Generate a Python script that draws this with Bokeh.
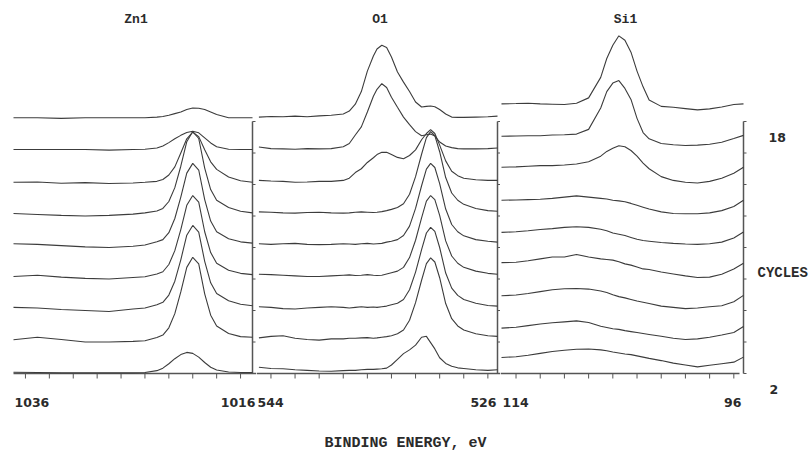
from bokeh.plotting import figure
from bokeh.layouts import row
from bokeh.models import Range1d, Label
from bokeh.embed import file_html
from bokeh.resources import INLINE

# ---------------- data ----------------
cycles = [2, 4, 6, 8, 10, 12, 14, 16, 18]

zn_title = "Zn1"
o_title = "O1"
si_title = "Si1"
x_title = "BINDING ENERGY, eV"
y_title = "CYCLES"

zn_end_labels = ["1036", "1016"]
o_end_labels = ["544", "526"]
si_end_labels = ["114", "96"]

zn_range = [1036, 1016]
o_range = [545.2, 525.2]
si_range = [115.2, 95.2]

zn_ticks = [1035, 1033, 1031, 1029, 1027, 1025, 1023, 1021, 1019, 1017]
o_ticks = [544, 542, 540, 538, 536, 534, 532, 530, 528, 526]
si_ticks = [114, 112, 110, 108, 106, 104, 102, 100, 98, 96]

# Zn 2p spectra (intensity in units of the stacking step)
zn_energy = [1036, 1034, 1032, 1030, 1028, 1026, 1025, 1024, 1023.5, 1023, 1022.5,
             1022, 1021.5, 1021, 1020.5, 1020, 1019.5, 1019, 1018, 1017, 1016]
zn_2 = [0.04, 0.03, 0.02, 0.02, 0.02, 0.02, 0.03, 0.09, 0.17, 0.31, 0.47, 0.6, 0.67, 0.64, 0.52, 0.35, 0.2, 0.11, 0.05, 0.03, 0.03]
zn_4 = [0.07, 0.15, 0.08, 0.0, 0.0, 0.02, 0.04, 0.14, 0.22, 0.45, 0.9, 1.59, 2.37, 2.69, 2.48, 1.53, 0.85, 0.51, 0.27, 0.17, 0.15]
zn_6 = [0.1, 0.08, 0.03, 0.0, -0.03, 0.05, 0.08, 0.18, 0.26, 0.49, 0.93, 1.61, 2.39, 2.7, 2.49, 1.56, 0.88, 0.54, 0.31, 0.2, 0.15]
zn_8 = [0.08, 0.12, 0.06, 0.02, 0.0, 0.05, 0.07, 0.16, 0.23, 0.46, 0.9, 1.57, 2.34, 2.65, 2.44, 1.5, 0.84, 0.5, 0.28, 0.18, 0.14]
zn_10 = [0.12, 0.1, 0.06, 0.02, 0.0, 0.04, 0.08, 0.18, 0.25, 0.47, 0.92, 1.6, 2.36, 2.67, 2.46, 1.52, 0.84, 0.5, 0.28, 0.18, 0.14]
zn_12 = [0.08, 0.05, 0.02, 0.0, 0.02, 0.06, 0.1, 0.16, 0.24, 0.46, 0.9, 1.58, 2.36, 2.68, 2.46, 1.52, 0.84, 0.5, 0.27, 0.15, 0.1]
zn_14 = [0.07, 0.08, 0.04, 0.06, 0.03, 0.05, 0.07, 0.1, 0.16, 0.3, 0.56, 1.0, 1.45, 1.66, 1.52, 1.1, 0.72, 0.48, 0.24, 0.12, 0.07]
zn_16 = [0.11, 0.11, 0.11, 0.11, 0.09, 0.11, 0.12, 0.16, 0.22, 0.33, 0.45, 0.56, 0.65, 0.69, 0.64, 0.48, 0.32, 0.2, 0.12, 0.11, 0.11]
zn_18 = [0.12, 0.12, 0.1, 0.12, 0.12, 0.12, 0.12, 0.14, 0.16, 0.2, 0.25, 0.3, 0.38, 0.43, 0.42, 0.38, 0.3, 0.22, 0.12, 0.12, 0.12]

# O 1s spectra
o_energy = [545, 544, 543, 542, 541, 540, 539, 538, 537.5, 537, 536.5, 536, 535.5, 535.2,
            534.8, 534.4, 534, 533.5, 533, 532.5, 532, 531.5, 531.1, 530.75, 530.4, 530,
            529.5, 529, 528.5, 528, 527, 526, 525.2]
o_2 = [0.2, 0.16, 0.15, 0.12, 0.1, 0.08, 0.07, 0.09, 0.1, 0.1, 0.12, 0.13, 0.13, 0.14, 0.15, 0.17, 0.27, 0.45, 0.63, 0.75, 0.9, 1.15, 1.18, 0.98, 0.78, 0.5, 0.32, 0.23, 0.18, 0.16, 0.12, 0.1, 0.12]
o_4 = [0.13, 0.18, 0.2, 0.12, 0.08, 0.06, 0.1, 0.1, 0.12, 0.12, 0.13, 0.14, 0.12, 0.13, 0.15, 0.17, 0.2, 0.26, 0.38, 0.69, 1.25, 1.96, 2.49, 2.67, 2.54, 2.04, 1.22, 0.74, 0.51, 0.38, 0.26, 0.2, 0.18]
o_6 = [0.12, 0.1, 0.06, 0.05, 0.08, 0.1, 0.12, 0.1, 0.08, 0.1, 0.12, 0.1, 0.11, 0.1, 0.12, 0.14, 0.18, 0.23, 0.35, 0.66, 1.22, 1.93, 2.46, 2.64, 2.51, 2.0, 1.19, 0.71, 0.48, 0.35, 0.23, 0.16, 0.14]
o_8 = [0.15, 0.14, 0.12, 0.1, 0.08, 0.08, 0.1, 0.12, 0.13, 0.11, 0.12, 0.14, 0.12, 0.11, 0.12, 0.16, 0.2, 0.25, 0.37, 0.68, 1.23, 1.94, 2.47, 2.65, 2.52, 2.02, 1.21, 0.73, 0.5, 0.37, 0.25, 0.18, 0.15]
o_10 = [0.12, 0.1, 0.12, 0.13, 0.1, 0.09, 0.1, 0.12, 0.11, 0.1, 0.12, 0.13, 0.11, 0.12, 0.13, 0.17, 0.2, 0.25, 0.38, 0.68, 1.24, 1.96, 2.49, 2.67, 2.54, 2.03, 1.22, 0.73, 0.5, 0.37, 0.25, 0.2, 0.17]
o_12 = [0.13, 0.12, 0.1, 0.09, 0.11, 0.12, 0.1, 0.09, 0.1, 0.12, 0.13, 0.12, 0.11, 0.12, 0.14, 0.17, 0.21, 0.27, 0.39, 0.69, 1.25, 1.96, 2.49, 2.68, 2.55, 2.04, 1.22, 0.73, 0.5, 0.37, 0.24, 0.17, 0.15]
o_14 = [0.13, 0.11, 0.1, 0.07, 0.08, 0.1, 0.1, 0.13, 0.2, 0.38, 0.5, 0.7, 0.85, 0.95, 1.02, 1.02, 0.95, 0.86, 0.82, 0.92, 1.1, 1.42, 1.62, 1.74, 1.62, 1.25, 0.75, 0.42, 0.28, 0.2, 0.15, 0.13, 0.13]
o_16 = [0.19, 0.14, 0.13, 0.12, 0.14, 0.13, 0.14, 0.2, 0.3, 0.57, 0.83, 1.3, 1.8, 2.02, 2.2, 2.08, 1.77, 1.45, 1.14, 0.9, 0.68, 0.55, 0.58, 0.6, 0.54, 0.35, 0.22, 0.17, 0.14, 0.13, 0.13, 0.14, 0.16]
o_18 = [0.14, 0.16, 0.15, 0.17, 0.15, 0.18, 0.2, 0.24, 0.33, 0.55, 0.95, 1.6, 2.08, 2.3, 2.42, 2.35, 2.05, 1.57, 1.25, 0.95, 0.62, 0.46, 0.48, 0.49, 0.47, 0.38, 0.24, 0.14, 0.13, 0.13, 0.14, 0.15, 0.17]

# Si 2p spectra
si_energy = [115.2, 114, 113, 112, 111, 110, 109, 108, 107, 106.5, 106, 105.5, 105, 104.5,
             104, 103.5, 103, 102, 101, 100, 99, 98, 97, 96, 95.2]
si_2 = [0.51, 0.53, 0.58, 0.64, 0.7, 0.74, 0.77, 0.78, 0.75, 0.72, 0.68, 0.65, 0.62, 0.6, 0.56, 0.52, 0.48, 0.41, 0.33, 0.27, 0.21, 0.26, 0.31, 0.36, 0.52]
si_4 = [0.44, 0.47, 0.52, 0.57, 0.61, 0.64, 0.67, 0.62, 0.5, 0.46, 0.42, 0.4, 0.36, 0.33, 0.3, 0.27, 0.24, 0.18, 0.12, 0.08, 0.1, 0.15, 0.22, 0.3, 0.49]
si_6 = [0.47, 0.49, 0.54, 0.6, 0.66, 0.69, 0.7, 0.68, 0.62, 0.57, 0.5, 0.44, 0.4, 0.35, 0.3, 0.26, 0.22, 0.14, 0.1, 0.06, 0.08, 0.12, 0.15, 0.28, 0.48]
si_8 = [0.52, 0.53, 0.58, 0.64, 0.7, 0.7, 0.78, 0.7, 0.64, 0.62, 0.6, 0.55, 0.48, 0.44, 0.38, 0.32, 0.3, 0.22, 0.16, 0.1, 0.05, 0.06, 0.15, 0.32, 0.5]
si_10 = [0.48, 0.5, 0.53, 0.57, 0.6, 0.64, 0.66, 0.64, 0.58, 0.53, 0.46, 0.42, 0.38, 0.32, 0.26, 0.22, 0.2, 0.16, 0.13, 0.11, 0.1, 0.12, 0.17, 0.3, 0.49]
si_12 = [0.5, 0.51, 0.52, 0.53, 0.56, 0.6, 0.64, 0.6, 0.56, 0.54, 0.5, 0.48, 0.45, 0.4, 0.34, 0.28, 0.22, 0.13, 0.08, 0.07, 0.07, 0.1, 0.17, 0.3, 0.5]
si_14 = [0.55, 0.56, 0.58, 0.6, 0.6, 0.62, 0.65, 0.72, 0.9, 1.05, 1.15, 1.23, 1.2, 1.08, 0.9, 0.68, 0.5, 0.25, 0.13, 0.07, 0.05, 0.1, 0.2, 0.36, 0.55]
si_16 = [0.53, 0.54, 0.55, 0.55, 0.57, 0.58, 0.6, 0.75, 1.43, 1.95, 2.22, 2.3, 2.05, 1.7, 1.1, 0.65, 0.45, 0.3, 0.26, 0.24, 0.25, 0.28, 0.34, 0.46, 0.56]
si_18 = [0.56, 0.57, 0.58, 0.56, 0.55, 0.54, 0.58, 0.75, 1.4, 2.0, 2.42, 2.72, 2.58, 2.2, 1.6, 1.1, 0.68, 0.48, 0.45, 0.41, 0.37, 0.4, 0.46, 0.54, 0.56]

zn_curves = [zn_2, zn_4, zn_6, zn_8, zn_10, zn_12, zn_14, zn_16, zn_18]
o_curves = [o_2, o_4, o_6, o_8, o_10, o_12, o_14, o_16, o_18]
si_curves = [si_2, si_4, si_6, si_8, si_10, si_12, si_14, si_16, si_18]

# ---------------- style / layout ----------------
LINE = "#3c3c3c"
AXC = "#555555"
TXT = "#2b2b2b"
MONO = "Liberation Mono"
SANS = "DejaVu Sans"
NUM_SIZE = "12.5px"
H = 451
BASE_PX = 373        # pixel row of the stacking origin
STEP_PX = 31.5       # pixels per stacking step
Y_RANGE = (-(H - BASE_PX) / STEP_PX, BASE_PX / STEP_PX)


def panel(title, energy, curves, xr, ticks, end_labels, width, left_px, px_per_ev,
          line_from_start, line_extra_px, right_label_dx):
    x0 = xr[0] + left_px / px_per_ev
    x1 = xr[0] - (width - left_px) / px_per_ev
    p = figure(width=width, height=H, x_range=Range1d(x0, x1), y_range=Range1d(*Y_RANGE),
               output_backend="svg", toolbar_location=None,
               x_axis_location=None, y_axis_location=None,
               min_border_left=0, min_border_right=0, min_border_top=0, min_border_bottom=0)
    p.outline_line_color = None
    p.grid.visible = False
    p.background_fill_color = "white"
    p.border_fill_color = "white"

    # baseline axis and its ticks
    ax_start = xr[0] if line_from_start else x0
    ax_end = x1 if line_extra_px is None else xr[1] - line_extra_px / px_per_ev
    p.line([ax_start, ax_end], [0, 0], line_color=AXC, line_width=1.3)
    tl = 5 / STEP_PX
    p.segment(x0=ticks, y0=[0] * len(ticks), x1=ticks, y1=[-tl] * len(ticks),
              line_color=AXC, line_width=1)

    # cycle axis on the right edge of the panel
    idx = list(range(len(cycles)))
    p.segment(x0=[xr[1]], y0=[0], x1=[xr[1]], y1=[idx[-1]], line_color=AXC, line_width=1.5)
    dx = 3 / px_per_ev
    p.segment(x0=[xr[1]] * len(idx), y0=idx, x1=[xr[1] - dx] * len(idx), y1=idx,
              line_color=AXC, line_width=1)

    for i, vals in enumerate(curves):
        p.line(energy, [i + v for v in vals], line_color=LINE, line_width=1.1)

    mid = (xr[0] + xr[1]) / 2.0
    p.add_layout(Label(x=mid, y=(BASE_PX - 19) / STEP_PX, x_offset=3, text=title, text_font=MONO,
                       text_font_style="bold", text_font_size="13px", text_color=TXT,
                       text_align="center", text_baseline="middle"))
    ly = -(402 - BASE_PX) / STEP_PX
    p.add_layout(Label(x=xr[0], y=ly, x_offset=1, text=end_labels[0], text_font=SANS,
                       text_font_style="bold", text_font_size=NUM_SIZE, text_color=TXT,
                       text_align="left", text_baseline="middle"))
    p.add_layout(Label(x=xr[1], y=ly, x_offset=right_label_dx, text=end_labels[1], text_font=SANS,
                       text_font_style="bold", text_font_size=NUM_SIZE, text_color=TXT,
                       text_align="right", text_baseline="middle"))
    return p


p_zn = panel(zn_title, zn_energy, zn_curves, zn_range, zn_ticks, zn_end_labels,
             256, 13, 11.95, True, None, 3)
p_o = panel(o_title, o_energy, o_curves, o_range, o_ticks, o_end_labels,
            244, 0, 12.05, False, None, -1)
p_si = panel(si_title, si_energy, si_curves, si_range, si_ticks, si_end_labels,
             312, 1, 12.1, False, -4, -2)

# axis titles
p_o.add_layout(Label(x=o_range[0], y=-(443 - BASE_PX) / STEP_PX, x_offset=149, text=x_title,
                     text_font=MONO, text_font_style="bold", text_font_size="15px",
                     text_color=TXT, text_align="center", text_baseline="middle"))
p_si.add_layout(Label(x=si_range[1], y=(BASE_PX - 272) / STEP_PX, x_offset=14, text=y_title,
                      text_font=MONO, text_font_style="bold", text_font_size="14px",
                      text_color=TXT, text_align="left", text_baseline="middle"))
p_si.add_layout(Label(x=si_range[1], y=(BASE_PX - 137) / STEP_PX, x_offset=25,
                      text=str(cycles[-1]), text_font=SANS, text_font_style="bold",
                      text_font_size=NUM_SIZE, text_color=TXT, text_align="left",
                      text_baseline="middle"))
p_si.add_layout(Label(x=si_range[1], y=-(389 - BASE_PX) / STEP_PX, x_offset=26,
                      text=str(cycles[0]), text_font=SANS, text_font_style="bold",
                      text_font_size=NUM_SIZE, text_color=TXT, text_align="left",
                      text_baseline="middle"))

layout = row(p_zn, p_o, p_si, spacing=0)
open("out.html", "w").write(file_html(layout, INLINE))
